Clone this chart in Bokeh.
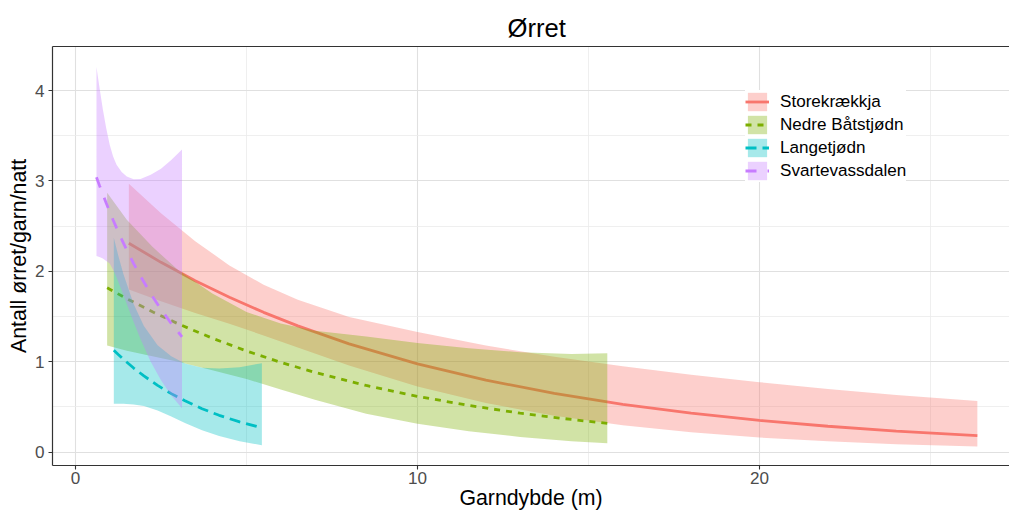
from bokeh.plotting import figure
from bokeh.models import Range1d, FixedTicker, LinearAxis, Legend, LegendItem, ColumnDataSource
from bokeh.embed import file_html
from bokeh.resources import INLINE

FONT = "Liberation Sans"

series_names = ["Storekrækkja", "Nedre Båtstjødn", "Langetjødn", "Svartevassdalen"]
series_colors = ["#F8766D", "#7CAE00", "#00BFC4", "#C77CFF"]
series_dashes = ["solid", "6 6", "11 6", "11 11"]

x_ticks = [0, 10, 20]
x_minor = [5, 15, 25]
y_ticks = [0, 1, 2, 3, 4]
y_minor = [0.5, 1.5, 2.5, 3.5]

# Storekrækkja
store_x = [1.56, 2.5, 3.5, 4.5, 5.5, 6.5, 8, 10, 12, 14, 16, 18, 20, 22, 24, 26.37]
store_fit = [2.311, 2.100, 1.896, 1.713, 1.547, 1.397, 1.198, 0.977, 0.797, 0.650, 0.530, 0.432, 0.352, 0.287, 0.234, 0.184]
store_lo = [1.800, 1.669, 1.540, 1.420, 1.292, 1.158, 0.959, 0.727, 0.544, 0.403, 0.298, 0.220, 0.162, 0.120, 0.088, 0.062]
store_hi = [2.968, 2.643, 2.334, 2.066, 1.852, 1.685, 1.496, 1.330, 1.180, 1.055, 0.950, 0.858, 0.775, 0.700, 0.632, 0.565]

# Nedre Båtstjødn
nedre_x = [0.925, 1.5, 2.25, 3, 4, 5, 6, 7, 8.5, 10, 11.5, 13, 14.5, 15.55]
nedre_fit = [1.818, 1.698, 1.553, 1.420, 1.261, 1.120, 0.994, 0.882, 0.738, 0.618, 0.517, 0.432, 0.362, 0.319]
nedre_lo = [1.180, 1.122, 1.062, 1.001, 0.907, 0.809, 0.694, 0.580, 0.426, 0.316, 0.232, 0.169, 0.120, 0.100]
nedre_hi = [2.870, 2.571, 2.271, 2.015, 1.754, 1.550, 1.424, 1.342, 1.279, 1.208, 1.151, 1.106, 1.086, 1.095]

# Langetjødn
lange_x = [1.12, 1.25, 1.4, 1.7, 2.0, 2.4, 2.8, 3.2, 3.7, 4.2, 4.8, 5.45]
lange_fit = [1.128, 1.081, 1.028, 0.931, 0.844, 0.739, 0.648, 0.568, 0.481, 0.408, 0.335, 0.270]
lange_lo = [0.537, 0.537, 0.537, 0.529, 0.510, 0.462, 0.395, 0.324, 0.243, 0.178, 0.120, 0.077]
lange_hi = [2.371, 2.175, 1.970, 1.640, 1.396, 1.182, 1.062, 0.980, 0.935, 0.925, 0.940, 0.985]

# Svartevassdalen
svarte_x = [0.613, 0.7, 0.8, 0.9, 1.0, 1.1, 1.2, 1.35, 1.5, 1.7, 1.9, 2.2, 2.5, 2.8, 3.115]
svarte_fit = [3.041, 2.951, 2.850, 2.753, 2.659, 2.568, 2.481, 2.355, 2.236, 2.086, 1.946, 1.753, 1.580, 1.424, 1.276]
svarte_lo = [2.171, 2.158, 2.143, 2.116, 2.087, 2.017, 1.936, 1.789, 1.640, 1.441, 1.253, 1.001, 0.796, 0.627, 0.486]
svarte_hi = [4.260, 4.035, 3.790, 3.581, 3.400, 3.270, 3.180, 3.100, 3.050, 3.020, 3.021, 3.069, 3.134, 3.233, 3.349]

data = [
    (store_x, store_fit, store_lo, store_hi),
    (nedre_x, nedre_fit, nedre_lo, nedre_hi),
    (lange_x, lange_fit, lange_lo, lange_hi),
    (svarte_x, svarte_fit, svarte_lo, svarte_hi),
]

p = figure(width=1009, height=512, output_backend="svg", toolbar_location=None,
           x_range=Range1d(-0.6725, 27.31), y_range=Range1d(-0.147, 4.487),
           min_border_left=52, min_border_right=0, min_border_top=46, min_border_bottom=47,
           background_fill_color="white", border_fill_color="white")
p.outline_line_color = None

items = []
for name, col, dash, (xs, fit, lo, hi) in zip(series_names, series_colors, series_dashes, data):
    src = ColumnDataSource(dict(x=xs, fit=fit, lo=lo, hi=hi))
    band = p.varea(x="x", y1="lo", y2="hi", source=src, fill_color=col, fill_alpha=0.35)
    ln = p.line(x="x", y="fit", source=src, line_color=col, line_width=2.8, line_dash=dash)
    items.append(LegendItem(label=name, renderers=[band, ln]))

legend = Legend(items=items, location=(693, 283), glyph_width=24, glyph_height=23,
                label_height=23, spacing=0, padding=7, label_standoff=11, margin=0,
                label_text_font=FONT, label_text_font_size="17.1px", label_text_color="black",
                border_line_color=None, background_fill_color="white", background_fill_alpha=1.0)
p.add_layout(legend)

p.xaxis.ticker = FixedTicker(ticks=x_ticks, minor_ticks=x_minor)
p.yaxis.ticker = FixedTicker(ticks=y_ticks, minor_ticks=y_minor)
p.xaxis.axis_label = "Garndybde (m)"
p.yaxis.axis_label = "Antall ørret/garn/natt"
for ax in (p.xaxis[0], p.yaxis[0]):
    ax.axis_line_color = "#333333"
    ax.axis_line_width = 1.2
    ax.major_tick_line_color = "#333333"
    ax.major_tick_line_width = 1.1
    ax.major_tick_out = 4
    ax.major_tick_in = 0
    ax.minor_tick_line_color = None
    ax.major_label_text_font = FONT
    ax.major_label_text_font_size = "17.1px"
    ax.major_label_text_color = "#4D4D4D"
    ax.major_label_standoff = 2
    ax.axis_label_text_font = FONT
    ax.axis_label_text_font_size = "21.3px"
    ax.axis_label_text_font_style = "normal"
    ax.axis_label_text_color = "black"
p.xaxis.axis_label_standoff = -1
p.yaxis.axis_label_standoff = 1
p.yaxis.major_label_standoff = 4

top = LinearAxis(ticker=FixedTicker(ticks=[]), axis_line_color="#333333", axis_line_width=1.2,
                 major_tick_line_color=None, minor_tick_line_color=None,
                 major_label_text_font_size="0px", major_tick_out=0, minor_tick_out=0,
                 major_label_standoff=0)
p.add_layout(top, "above")

for g in (p.xgrid[0], p.ygrid[0]):
    g.grid_line_color = "#E0E0E0"
    g.grid_line_width = 1.1
    g.minor_grid_line_color = "#EBEBEB"
    g.minor_grid_line_width = 0.8

p.title.text = "Ørret"
p.title.align = "left"
p.title.text_font = FONT
p.title.text_font_size = "25.6px"
p.title.text_font_style = "normal"
p.title.text_color = "black"
p.title.offset = 455
p.title.standoff = 10

open("out.html", "w").write(file_html(p, INLINE))
